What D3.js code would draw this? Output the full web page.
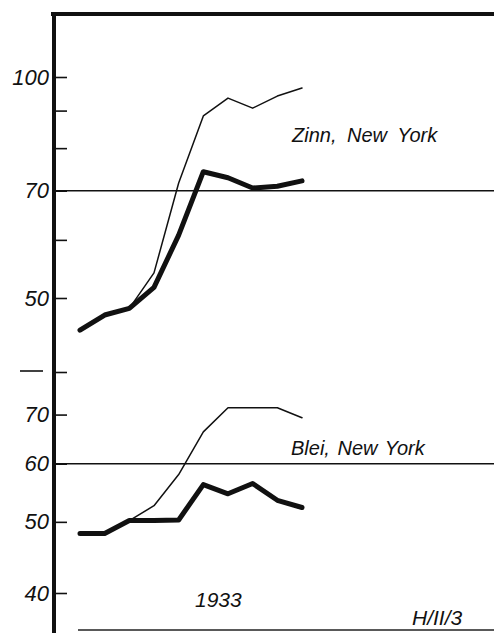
<!DOCTYPE html>
<html>
<head>
<meta charset="utf-8">
<script src="https://cdn.jsdelivr.net/npm/d3@7/dist/d3.min.js"></script>
<style>
  html, body { margin: 0; padding: 0; background: #fff; }
  svg { display: block; }
  text { font-family: "Liberation Sans", Arial, sans-serif; font-style: italic; fill: #111; }
  .tick line { stroke: #111; stroke-width: 1.6; }
  .tick text { font-size: 22px; }
</style>
</head>
<body>
<svg width="494" height="633"></svg>
<script>
/* globals d3 */
// months Jan..Oct 1933 (index only)
const months = [0, 1, 2, 3, 4, 5, 6, 7, 8, 9];

// Zinn (tin), New York
const zinnThin = [45.2, 47.4, 48.4, 54.1, 71.7, 88.5, 93.6, 90.7, 94.2, 96.6];
const zinnThick = [45.2, 47.4, 48.4, 51.7, 60.9, 74.3, 72.9, 70.6, 71.0, 72.2];

// Blei (lead), New York
const bleiThin = [48.2, 48.2, 50.2, 52.6, 58.0, 66.3, 71.5, 71.5, 71.5, 69.3];
const bleiThick = [48.2, 48.2, 50.2, 50.2, 50.3, 56.2, 54.6, 56.4, 53.5, 52.3];

const zinnTicks = [100, 90, 80, 70, 60, 50];
const zinnLabels = [100, 70, 50];
const bleiTicks = [80, 70, 60, 50, 40];
const bleiLabels = [70, 60, 50, 40];

const svg = d3.select('svg');
const axisX = 54;

const x = d3.scaleLinear().domain([0, 9]).range([80, 302]);
const yTop = d3.scaleLog().domain([50, 100]).range([298, 77]);
const yBot = d3.scaleLog().domain([40, 80]).range([593, 372]);

// frame: top border, left spine, bottom rule
svg.append('line')
  .attr('x1', 51).attr('x2', 494).attr('y1', 14).attr('y2', 14)
  .attr('stroke', '#111').attr('stroke-width', 4);
svg.append('line')
  .attr('x1', 78).attr('x2', 494).attr('y1', 630).attr('y2', 630)
  .attr('stroke', '#222').attr('stroke-width', 1.6);

// reference lines at 70 (tin) and 60 (lead)
svg.append('line')
  .attr('x1', axisX).attr('x2', 494).attr('y1', yTop(70)).attr('y2', yTop(70))
  .attr('stroke', '#111').attr('stroke-width', 1.4);
svg.append('line')
  .attr('x1', axisX).attr('x2', 494).attr('y1', yBot(60)).attr('y2', yBot(60))
  .attr('stroke', '#111').attr('stroke-width', 1.4);

function drawAxis (scale, ticks, labels) {
  const axis = d3.axisLeft(scale)
    .tickValues(ticks)
    .tickSizeInner(-13)
    .tickSizeOuter(0)
    .tickPadding(5)
    .tickFormat(d => labels.includes(d) ? d : '');
  const g = svg.append('g')
    .attr('transform', `translate(${axisX},0)`)
    .call(axis);
  g.select('.domain').remove();
  g.selectAll('.tick text').attr('font-family', null);
}
drawAxis(yTop, zinnTicks, zinnLabels);
drawAxis(yBot, bleiTicks, bleiLabels);

// separator dash left of the axis
svg.append('line')
  .attr('x1', 20).attr('x2', 43).attr('y1', yBot(80) - 1).attr('y2', yBot(80) - 1)
  .attr('stroke', '#111').attr('stroke-width', 1.6);

svg.append('line')
  .attr('x1', axisX).attr('x2', axisX).attr('y1', 12).attr('y2', 633)
  .attr('stroke', '#111').attr('stroke-width', 4);

function drawLine (values, scale, width) {
  const line = d3.line()
    .x((d, i) => x(months[i]))
    .y(d => scale(d));
  svg.append('path')
    .datum(values)
    .attr('d', line)
    .attr('fill', 'none')
    .attr('stroke', '#111')
    .attr('stroke-width', width)
    .attr('stroke-linejoin', 'round')
    .attr('stroke-linecap', 'round');
}
drawLine(zinnThin, yTop, 1.5);
drawLine(zinnThick, yTop, 5);
drawLine(bleiThin, yBot, 1.5);
drawLine(bleiThick, yBot, 5);

// labels
svg.append('text').attr('x', 292).attr('y', 142)
  .style('font-size', '20px').style('word-spacing', '5px')
  .text('Zinn, New York');
svg.append('text').attr('x', 291).attr('y', 455)
  .style('font-size', '20px').style('word-spacing', '2px')
  .text('Blei, New York');
svg.append('text').attr('x', 195).attr('y', 607)
  .style('font-size', '21px')
  .text('1933');
svg.append('text').attr('x', 412).attr('y', 625)
  .style('font-size', '21px')
  .text('H/II/3');
</script>
</body>
</html>
